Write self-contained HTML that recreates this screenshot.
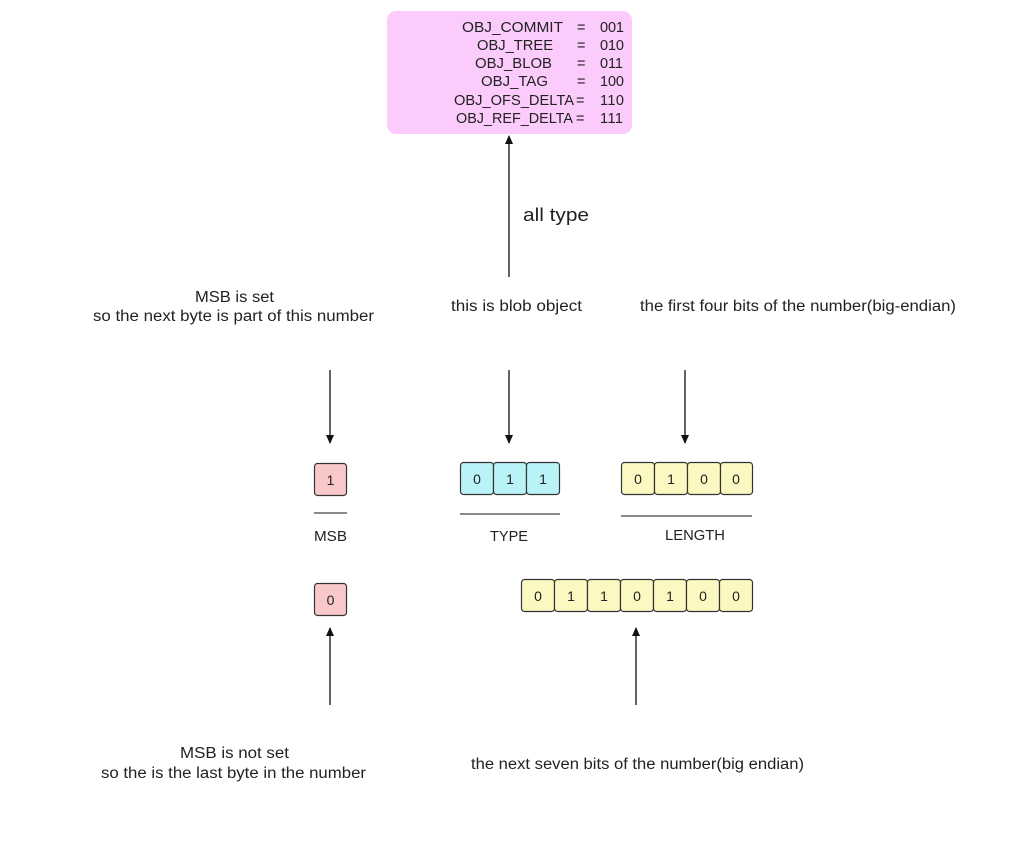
<!DOCTYPE html>
<html><head><style>body{margin:0;background:#fff}svg{display:block}text{font-family:"Liberation Sans",sans-serif;fill:#222}</style></head><body>
<svg width="1009" height="862" viewBox="0 0 1009 862" xmlns="http://www.w3.org/2000/svg">
<defs><marker id="a" markerWidth="10" markerHeight="10" refX="8" refY="5" orient="auto" markerUnits="userSpaceOnUse"><path d="M0,1 L9,5 L0,9 z" fill="#111"/></marker></defs>
<rect x="387" y="11" width="245" height="123" rx="9" fill="#fbcbfb"/>
<g font-size="14.5">
<text x="462" y="32" textLength="101" lengthAdjust="spacingAndGlyphs">OBJ_COMMIT</text>
<text x="477" y="50" textLength="76" lengthAdjust="spacingAndGlyphs">OBJ_TREE</text>
<text x="475" y="68" textLength="77" lengthAdjust="spacingAndGlyphs">OBJ_BLOB</text>
<text x="481" y="86" textLength="67" lengthAdjust="spacingAndGlyphs">OBJ_TAG</text>
<text x="454" y="105" textLength="120" lengthAdjust="spacingAndGlyphs">OBJ_OFS_DELTA</text>
<text x="456" y="123" textLength="117" lengthAdjust="spacingAndGlyphs">OBJ_REF_DELTA</text>
<text x="577" y="32">=</text><text x="577" y="50">=</text><text x="577" y="68">=</text><text x="577" y="86">=</text><text x="576" y="105">=</text><text x="576" y="123">=</text>
<text x="600" y="32" textLength="24">001</text><text x="600" y="50" textLength="24">010</text><text x="600" y="68" textLength="23">011</text><text x="600" y="86" textLength="24">100</text><text x="600" y="105" textLength="24">110</text><text x="600" y="123" textLength="23">111</text></g>
<g stroke="#111" stroke-width="1.3" marker-end="url(#a)">
<line x1="509" y1="277" x2="509" y2="136"/>
<line x1="330" y1="370" x2="330" y2="443"/>
<line x1="509" y1="370" x2="509" y2="443"/>
<line x1="685" y1="370" x2="685" y2="443"/>
<line x1="330" y1="705" x2="330" y2="628"/>
<line x1="636" y1="705" x2="636" y2="628"/>
</g>
<text x="523" y="221" font-size="18.5" textLength="66" lengthAdjust="spacingAndGlyphs">all type</text>
<g font-size="15.5">
<text x="195" y="302" textLength="79" lengthAdjust="spacingAndGlyphs">MSB is set</text>
<text x="93" y="321" textLength="281" lengthAdjust="spacingAndGlyphs">so the next byte is part of this number</text>
<text x="451" y="311" textLength="131" lengthAdjust="spacingAndGlyphs">this is blob object</text>
<text x="640" y="311" textLength="316" lengthAdjust="spacingAndGlyphs">the first four bits of the number(big-endian)</text>
<text x="180" y="758" textLength="109" lengthAdjust="spacingAndGlyphs">MSB is not set</text>
<text x="101" y="778" textLength="265" lengthAdjust="spacingAndGlyphs">so the is the last byte in the number</text>
<text x="471" y="769" textLength="333" lengthAdjust="spacingAndGlyphs">the next seven bits of the number(big endian)</text>
</g>
<g font-size="14.5">
<text x="314" y="541" textLength="33" lengthAdjust="spacingAndGlyphs">MSB</text>
<text x="490" y="541" textLength="38" lengthAdjust="spacingAndGlyphs">TYPE</text>
<text x="665" y="540" textLength="60" lengthAdjust="spacingAndGlyphs">LENGTH</text>
</g>
<g stroke="#444" stroke-width="1.3"><line x1="314" y1="513" x2="347" y2="513"/><line x1="460" y1="514" x2="560" y2="514"/><line x1="621" y1="516" x2="752" y2="516"/></g>
<g stroke="#333" stroke-width="1.2" font-size="14" text-anchor="middle">
<rect x="314.5" y="463.5" width="32" height="32" rx="3" fill="#f9c9c9"/><text x="330.5" y="485" stroke="none">1</text>
<rect x="314.5" y="583.5" width="32" height="32" rx="3" fill="#f9c9c9"/><text x="330.5" y="605" stroke="none">0</text>
<rect x="460.5" y="462.5" width="33" height="32" rx="3" fill="#b9f3f7"/><text x="477" y="484" stroke="none">0</text>
<rect x="493.5" y="462.5" width="33" height="32" rx="3" fill="#b9f3f7"/><text x="510" y="484" stroke="none">1</text>
<rect x="526.5" y="462.5" width="33" height="32" rx="3" fill="#b9f3f7"/><text x="543" y="484" stroke="none">1</text>
<rect x="621.5" y="462.5" width="33" height="32" rx="3" fill="#fbf8c1"/><text x="638" y="484" stroke="none">0</text>
<rect x="654.5" y="462.5" width="33" height="32" rx="3" fill="#fbf8c1"/><text x="671" y="484" stroke="none">1</text>
<rect x="687.5" y="462.5" width="33" height="32" rx="3" fill="#fbf8c1"/><text x="704" y="484" stroke="none">0</text>
<rect x="720.5" y="462.5" width="32" height="32" rx="3" fill="#fbf8c1"/><text x="736" y="484" stroke="none">0</text>
<rect x="521.5" y="579.5" width="33" height="32" rx="3" fill="#fbf8c1"/><text x="538" y="601" stroke="none">0</text>
<rect x="554.5" y="579.5" width="33" height="32" rx="3" fill="#fbf8c1"/><text x="571" y="601" stroke="none">1</text>
<rect x="587.5" y="579.5" width="33" height="32" rx="3" fill="#fbf8c1"/><text x="604" y="601" stroke="none">1</text>
<rect x="620.5" y="579.5" width="33" height="32" rx="3" fill="#fbf8c1"/><text x="637" y="601" stroke="none">0</text>
<rect x="653.5" y="579.5" width="33" height="32" rx="3" fill="#fbf8c1"/><text x="670" y="601" stroke="none">1</text>
<rect x="686.5" y="579.5" width="33" height="32" rx="3" fill="#fbf8c1"/><text x="703" y="601" stroke="none">0</text>
<rect x="719.5" y="579.5" width="33" height="32" rx="3" fill="#fbf8c1"/><text x="736" y="601" stroke="none">0</text>
</g>
</svg>
</body></html>
